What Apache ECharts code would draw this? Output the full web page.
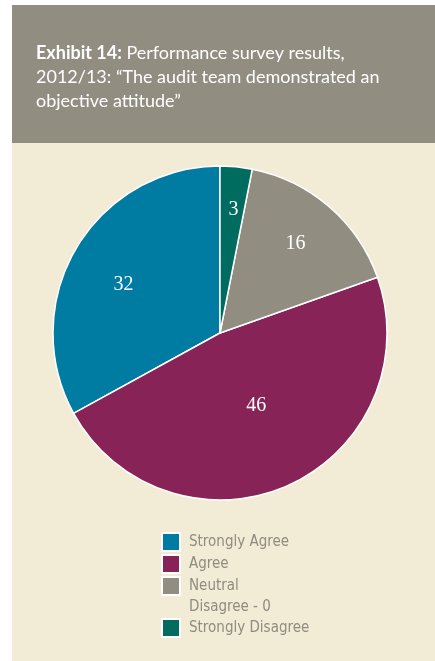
<!DOCTYPE html>
<html>
<head>
<meta charset="utf-8">
<script src="https://cdn.jsdelivr.net/npm/echarts@6/dist/echarts.min.js"></script>
<style>
  html, body { margin: 0; padding: 0; background: #ffffff; }
  #chart { width: 435px; height: 661px; }
</style>
</head>
<body>
<div id="chart"></div>
<script>
// Survey responses, in scale order
const categories = ['Strongly Agree', 'Agree', 'Neutral', 'Disagree', 'Strongly Disagree'];
const responses = [32, 46, 16, 0, 3];

const sliceColors = {
  'Strongly Agree': '#007ba2',
  'Agree': '#872356',
  'Neutral': '#918e81',
  'Disagree': '#918e81',
  'Strongly Disagree': '#006b5f'
};

// Nudges that move each value label off the default mid-radius point
const labelNudge = {
  'Strongly Agree': [-22, -4],
  'Agree': [1, -6],
  'Neutral': [19, -24],
  'Strongly Disagree': [5, -37]
};

const pieData = categories.map((name, i) => {
  const item = {
    name: name,
    value: responses[i],
    itemStyle: { color: sliceColors[name] }
  };
  if (responses[i] === 0) {
    item.label = { show: false };
    item.itemStyle.borderWidth = 0;
  } else {
    item.label = { offset: labelNudge[name] };
  }
  return item;
});

const legendData = categories.map((name, i) => ({
  name: name,
  icon: responses[i] === 0 ? 'none' : 'rect'
}));

const chart = echarts.init(document.getElementById('chart'), null, { renderer: 'canvas' });

chart.setOption({
  animation: false,
  graphic: [
    { type: 'rect', left: 12, top: 143, shape: { width: 423, height: 518 }, style: { fill: '#f2ebd6' }, z: -10 },
    { type: 'rect', left: 12, top: 5, shape: { width: 423, height: 138 }, style: { fill: '#918e81' }, z: -10 }
  ],
  title: {
    text: '{b|Exhibit 14:} Performance survey results,\n2012/13: \u201CThe audit team demonstrated an\nobjective attitude\u201D',
    left: 36,
    top: 41,
    padding: 0,
    textStyle: {
      color: '#ffffff',
      fontFamily: 'Lato',
      fontSize: 18,
      fontWeight: 'normal',
      lineHeight: 24,
      rich: {
        b: { fontFamily: 'Lato', fontWeight: 'bold', fontSize: 18, color: '#ffffff', lineHeight: 24 }
      }
    }
  },
  legend: {
    orient: 'vertical',
    left: 161,
    top: 532,
    padding: 0,
    itemWidth: 18,
    itemHeight: 18,
    itemGap: 2,
    selectedMode: false,
    data: legendData,
    formatter: function (name) {
      const v = responses[categories.indexOf(name)];
      return v === 0 ? name + ' - ' + v : name;
    },
    textStyle: {
      color: '#8f8c80',
      fontFamily: '"DejaVu Sans Condensed", sans-serif',
      fontSize: 15,
      lineHeight: 18,
      padding: [0, 0, 0, 4]
    }
  },
  series: [{
    type: 'pie',
    center: [220, 333],
    radius: [0, 167],
    startAngle: 90,
    clockwise: false,
    avoidLabelOverlap: false,
    stillShowZeroSum: true,
    silent: true,
    itemStyle: { borderColor: '#ffffff', borderWidth: 1.5 },
    label: {
      show: true,
      position: 'inside',
      formatter: '{c}',
      color: '#ffffff',
      fontFamily: '"Liberation Serif", "DejaVu Serif", serif',
      fontSize: 20
    },
    labelLine: { show: false },
    data: pieData
  }]
});
</script>
</body>
</html>
